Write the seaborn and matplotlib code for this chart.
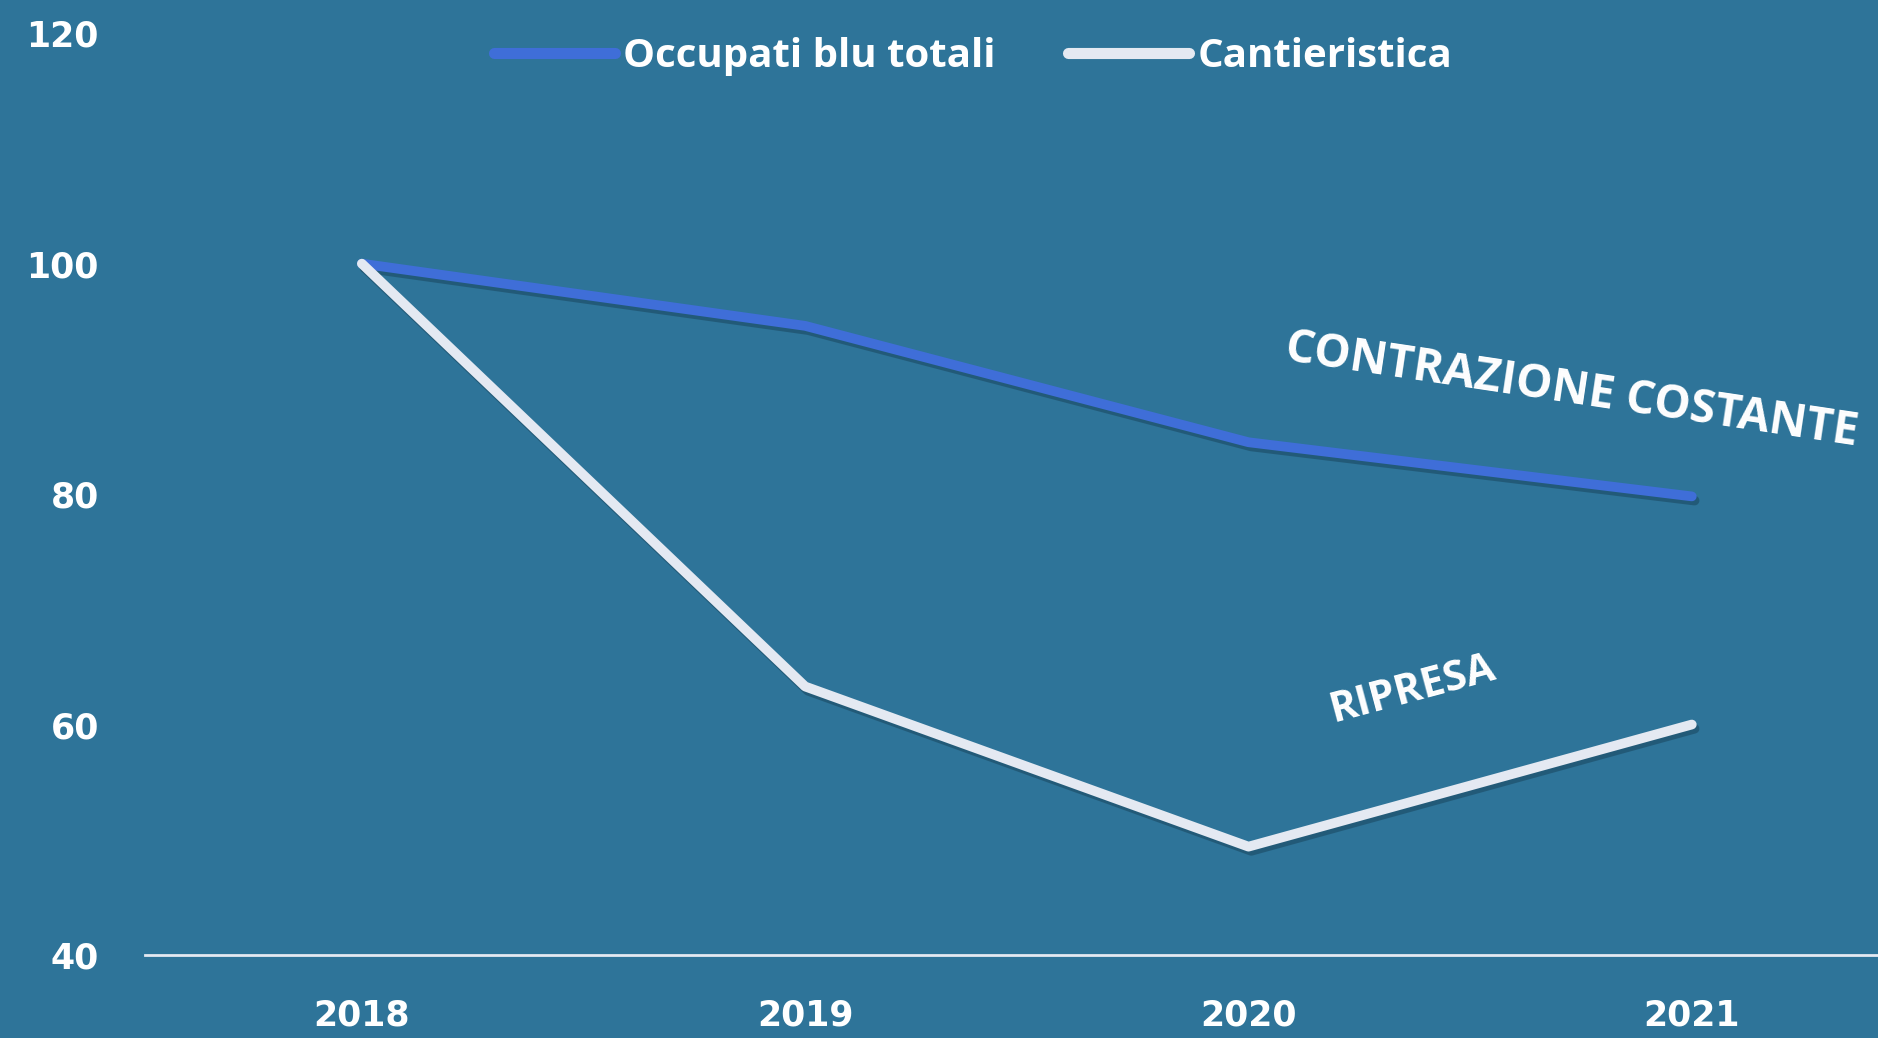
import matplotlib
matplotlib.use("Agg")
import matplotlib.pyplot as plt
import matplotlib.patheffects as pe
from matplotlib.lines import Line2D
import seaborn as sns
import pandas as pd

years = ["2018", "2019", "2020", "2021"]
occupati_blu = [100, 94.6, 84.5, 79.8]
cantieristica = [100, 63.3, 49.4, 60.0]
series_names = ["Occupati blu totali", "Cantieristica"]
y_ticks = [40, 60, 80, 100, 120]

bg = "#2E7499"
blue = "#3F6ED8"
white = "#E4E9F2"

sns.set_theme(style="white")
plt.rcParams['font.family'] = ['DejaVu Sans']

df = pd.DataFrame({
    "anno": years * 2,
    "valore": occupati_blu + cantieristica,
    "serie": [series_names[0]] * 4 + [series_names[1]] * 4,
})

fig = plt.figure(figsize=(18.78, 10.38), dpi=100, facecolor=bg)
ax = fig.add_axes([0.077, 0.080, 0.923, 0.888])
ax.set_facecolor(bg)

sns.lineplot(data=df, x="anno", y="valore", hue="serie", hue_order=series_names,
             palette=[blue, white], linewidth=7, ax=ax, sort=False,
             legend=False)
for ln in ax.lines:
    ln.set_solid_capstyle("round")
    ln.set_solid_joinstyle("round")
    ln.set_path_effects([pe.SimpleLineShadow(offset=(2, -3), shadow_color="#1b4a63", alpha=0.6),
                         pe.Normal()])

ax.set_xlim(-0.49, 3.42)
ax.set_ylim(40, 120)
ax.set_yticks(y_ticks)
ax.set_xlabel("")
ax.set_ylabel("")
for s in ["top", "right", "left"]:
    ax.spines[s].set_visible(False)
ax.spines["bottom"].set_color("#E4E9F2")
ax.spines["bottom"].set_linewidth(2)
ax.tick_params(axis="both", length=0, colors="white")
ax.tick_params(axis="y", pad=33)
ax.tick_params(axis="x", pad=31)
for t in ax.get_yticklabels() + ax.get_xticklabels():
    t.set_fontsize(25)
    t.set_fontweight("bold")
    t.set_color("white")

handles = [Line2D([0], [0], color=blue, lw=8, solid_capstyle="round"),
           Line2D([0], [0], color=white, lw=8, solid_capstyle="round")]
leg = ax.legend(handles, series_names, loc="upper center", bbox_to_anchor=(0.478, 1.035),
                ncol=2, frameon=False, handlelength=3.0, handletextpad=0.2,
                columnspacing=1.8, prop={"family": "Open Sans", "weight": "bold", "size": 29})
for t in leg.get_texts():
    t.set_color("white")

ax.text(2.73, 89.0, "CONTRAZIONE COSTANTE", rotation=-8.5, ha="center", va="center",
        color="white", fontsize=33, fontweight="bold", family="Open Sans")
ax.text(2.37, 63.0, "RIPRESA", rotation=15, ha="center", va="center",
        color="white", fontsize=30, fontweight="bold", family="Open Sans")

fig.savefig("out.png", dpi=100, facecolor=bg)
